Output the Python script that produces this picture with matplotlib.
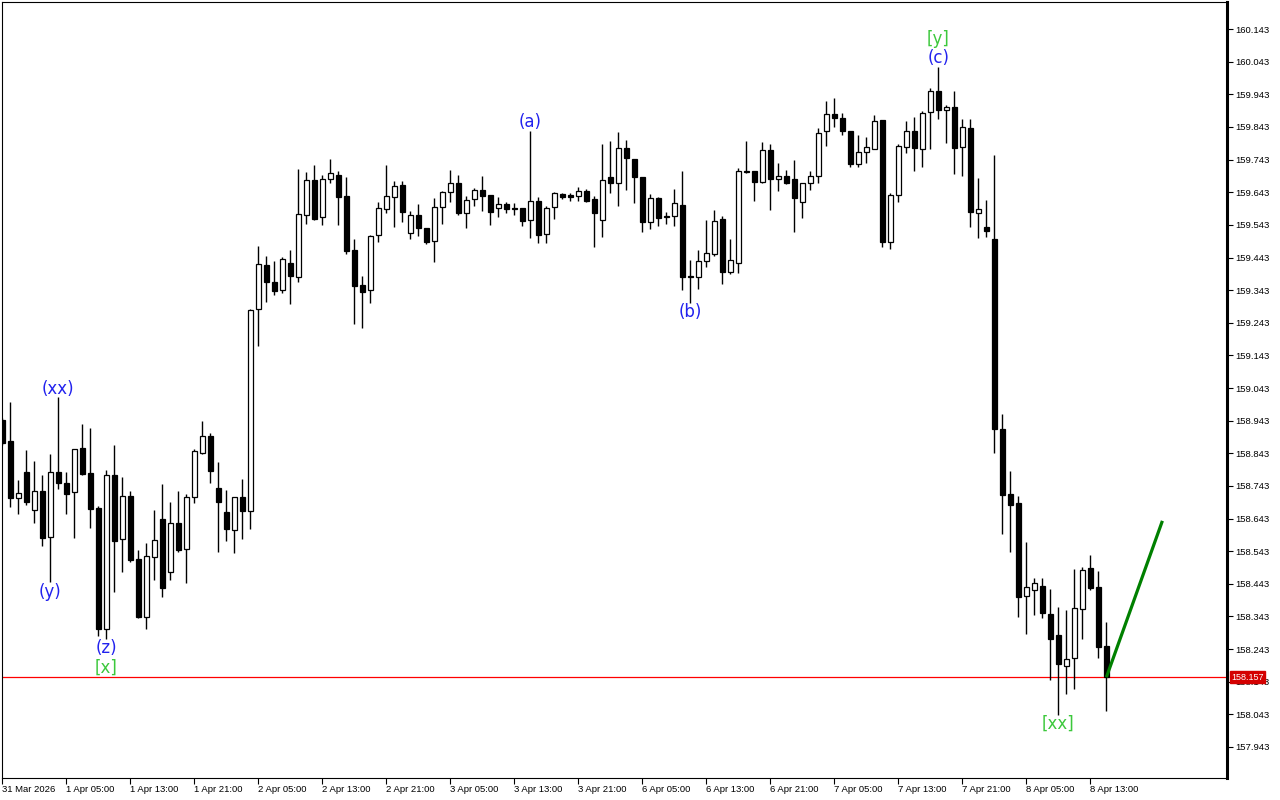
import matplotlib
matplotlib.use("Agg")
import matplotlib.pyplot as plt
import numpy as np

# ---------------- data (hourly candles, USDJPY-like) ----------------
opens = [158.945,158.881,158.706,158.786,158.669,158.728,158.587,158.786,158.752,158.725,
158.859,158.783,158.675,158.305,158.777,158.581,158.712,158.519,158.342,158.525,
158.642,158.479,158.630,158.550,158.709,158.844,158.896,158.737,158.663,158.608,
158.709,158.666,159.285,159.420,159.368,159.343,159.426,159.383,159.573,159.681,
159.567,159.684,159.696,159.631,159.466,159.359,159.343,159.512,159.592,159.628,
159.665,159.518,159.573,159.534,159.494,159.598,159.644,159.672,159.580,159.622,
159.650,159.634,159.595,159.607,159.595,159.595,159.558,159.616,159.515,159.598,
159.637,159.634,159.631,159.647,159.622,159.558,159.690,159.672,159.779,159.745,
159.690,159.552,159.625,159.570,159.570,159.604,159.386,159.383,159.432,159.454,
159.561,159.399,159.426,159.708,159.708,159.675,159.773,159.684,159.693,159.684,
159.613,159.672,159.693,159.831,159.883,159.870,159.831,159.729,159.766,159.776,
159.864,159.491,159.634,159.782,159.831,159.776,159.889,159.953,159.895,159.904,
159.782,159.840,159.580,159.537,159.500,158.918,158.718,158.691,158.406,158.424,
158.437,158.351,158.286,158.191,158.216,158.366,158.492,158.434,158.253]
highs = [158.951,159.000,158.761,158.853,158.820,158.777,158.841,159.016,158.786,158.856,
158.933,158.921,158.682,158.792,158.869,158.771,158.728,158.547,158.568,158.669,
158.749,158.694,158.728,158.718,158.856,158.942,158.905,158.816,158.731,158.709,
158.764,159.285,159.478,159.448,159.432,159.445,159.466,159.714,159.705,159.726,
159.696,159.745,159.708,159.690,159.500,159.386,159.512,159.613,159.726,159.678,
159.678,159.586,159.607,159.534,159.625,159.647,159.711,159.696,159.631,159.656,
159.693,159.634,159.628,159.613,159.610,159.595,159.831,159.628,159.601,159.644,
159.641,159.641,159.659,159.653,159.631,159.791,159.800,159.828,159.803,159.745,
159.690,159.637,159.628,159.582,159.653,159.708,159.435,159.466,159.558,159.589,
159.570,159.500,159.717,159.800,159.708,159.797,159.791,159.732,159.711,159.742,
159.672,159.708,159.840,159.923,159.932,159.886,159.831,159.819,159.812,159.879,
159.864,159.641,159.791,159.861,159.873,159.892,159.962,160.027,159.910,159.953,
159.867,159.867,159.687,159.619,159.757,158.964,158.789,158.712,158.571,158.461,
158.461,158.427,158.372,158.363,158.489,158.495,158.532,158.483,158.326]
lows = [158.869,158.679,158.657,158.685,158.630,158.559,158.449,158.734,158.657,158.584,
158.777,158.614,158.283,158.274,158.418,158.479,158.510,158.338,158.305,158.455,
158.403,158.455,158.541,158.446,158.691,158.841,158.752,158.541,158.574,158.538,
158.581,158.611,159.172,159.307,159.328,159.334,159.301,159.368,159.546,159.558,
159.543,159.672,159.543,159.454,159.239,159.227,159.304,159.491,159.580,159.537,
159.552,159.500,159.509,159.485,159.429,159.546,159.613,159.573,159.534,159.601,
159.586,159.543,159.567,159.580,159.573,159.540,159.503,159.488,159.488,159.561,
159.622,159.616,159.616,159.613,159.475,159.506,159.641,159.601,159.650,159.610,
159.521,159.530,159.540,159.546,159.540,159.343,159.304,159.347,159.414,159.448,
159.362,159.393,159.396,159.702,159.616,159.672,159.589,159.647,159.669,159.521,
159.564,159.650,159.672,159.785,159.843,159.819,159.720,159.720,159.732,159.776,
159.475,159.469,159.613,159.763,159.708,159.720,159.776,159.867,159.794,159.699,
159.693,159.537,159.503,159.506,158.844,158.596,158.541,158.342,158.290,158.348,
158.339,158.148,158.041,158.106,158.122,158.274,158.424,158.216,158.054]
closes = [158.875,158.706,158.721,158.694,158.728,158.584,158.786,158.752,158.718,158.856,
158.780,158.672,158.305,158.777,158.574,158.712,158.516,158.342,158.528,158.578,
158.430,158.630,158.547,158.709,158.850,158.896,158.789,158.694,158.611,158.709,
158.666,159.282,159.423,159.368,159.340,159.438,159.386,159.576,159.681,159.561,
159.684,159.702,159.628,159.463,159.356,159.337,159.509,159.595,159.631,159.662,
159.582,159.573,159.534,159.491,159.598,159.644,159.672,159.580,159.619,159.650,
159.631,159.582,159.607,159.592,159.592,159.555,159.616,159.512,159.595,159.641,
159.628,159.628,159.647,159.616,159.580,159.681,159.672,159.779,159.748,159.690,
159.552,159.625,159.564,159.567,159.610,159.383,159.383,159.432,159.457,159.555,
159.399,159.435,159.708,159.705,159.675,159.773,159.684,159.693,159.672,159.625,
159.672,159.693,159.825,159.883,159.870,159.831,159.729,159.766,159.782,159.861,
159.491,159.634,159.785,159.831,159.779,159.886,159.953,159.895,159.904,159.779,
159.843,159.582,159.592,159.524,158.918,158.716,158.685,158.403,158.434,158.446,
158.354,158.274,158.197,158.213,158.369,158.486,158.430,158.250,158.157]

time_labels = ["31 Mar 2026", "1 Apr 05:00", "1 Apr 13:00", "1 Apr 21:00",
               "2 Apr 05:00", "2 Apr 13:00", "2 Apr 21:00", "3 Apr 05:00",
               "3 Apr 13:00", "3 Apr 21:00", "6 Apr 05:00", "6 Apr 13:00",
               "6 Apr 21:00", "7 Apr 05:00", "7 Apr 13:00", "7 Apr 21:00",
               "8 Apr 05:00", "8 Apr 13:00"]
label_step = 8
price_ticks = [157.943, 158.043, 158.143, 158.243, 158.343, 158.443, 158.543,
               158.643, 158.743, 158.843, 158.943, 159.043, 159.143, 159.243,
               159.343, 159.443, 159.543, 159.643, 159.743, 159.843, 159.943,
               160.043, 160.143]
current_price = 158.157
forecast_bars = [138, 145]
forecast_prices = [158.157, 158.636]

# wave labels: (text, bar, anchor ('H' or 'L'), offset pixels, colour key)
wave_labels = [("(xx)", 7, "H", 8, "blue"), ("(y)", 6, "L", -10, "blue"),
               ("(z)", 13, "L", -9, "blue"), ("[x]", 13, "L", -29, "green"),
               ("(a)", 66, "H", 9, "blue"), ("(b)", 86, "L", -9, "blue"),
               ("(c)", 117, "H", 9, "blue"), ("[y]", 117, "H", 28, "green"),
               ("[xx]", 132, "L", -9, "green")]

# ---------------- figure ----------------
W, H = 1280, 800
fig = plt.figure(figsize=(12.8, 8.0), dpi=100)
fig.patch.set_facecolor("white")
ax = fig.add_axes([2 / W, 22 / H, 1225 / W, 776 / H])
ax.set_facecolor("white")

o = np.array(opens); h = np.array(highs); l = np.array(lows); c = np.array(closes)
x = np.arange(len(o))
up = c >= o

ax.vlines(x, l, h, color="black", linewidth=1.0, zorder=2)
bottoms = np.minimum(o, c)
heights = np.abs(c - o)
ax.bar(x[up], heights[up], bottom=bottoms[up], width=0.6, color="white",
       edgecolor="black", linewidth=0.9, zorder=3)
ax.bar(x[~up], heights[~up], bottom=bottoms[~up], width=0.6, color="black",
       edgecolor="black", linewidth=0.9, zorder=3)

# current price line
ax.axhline(current_price, color="#ff0000", linewidth=0.9, zorder=1)
ax.annotate(f"{current_price:.3f}", xy=(1.0, current_price),
            xycoords=("axes fraction", "data"), xytext=(4, 0),
            textcoords="offset pixels", ha="left", va="center",
            fontsize=6.5, family="Liberation Sans", color="white",
            bbox=dict(boxstyle="square,pad=0.15", fc="#d40000", ec="#d40000"),
            annotation_clip=False, zorder=10)

# forecast line
ax.plot(forecast_bars, forecast_prices, color="#008000", linewidth=2.3,
        solid_capstyle="butt", zorder=4)

colors = {"blue": "#2222ee", "green": "#3cc83c"}
for txt, b, anc, off, ck in wave_labels:
    yv = h[b] if anc == "H" else l[b]
    ax.annotate(txt, xy=(b, yv), xytext=(0, off), textcoords="offset pixels",
                ha="center", va="center", fontsize=12, family="DejaVu Sans",
                color=colors[ck], zorder=6)

# axes
ax.set_xlim(-0.05, -0.05 + 1225 / 8)
ax.set_ylim(157.848, 160.226)

ax.set_xticks(np.arange(len(time_labels)) * label_step)
ax.set_xticklabels(time_labels, fontsize=6.8, family="Liberation Sans")
for t in ax.get_xticklabels():
    t.set_ha("left")
ax.tick_params(axis="x", direction="out", length=4, width=0.8, pad=1)

ax.yaxis.tick_right()
ax.set_yticks(price_ticks)
ax.set_yticklabels([f"{p:.3f}" for p in price_ticks], fontsize=6.8,
                   family="Liberation Sans")
ax.tick_params(axis="y", direction="out", length=4, width=0.8, pad=2)

for s in ["left", "top", "bottom"]:
    ax.spines[s].set_linewidth(0.8)
ax.spines["right"].set_linewidth(2.2)

fig.savefig("out.png", dpi=100, facecolor="white")
